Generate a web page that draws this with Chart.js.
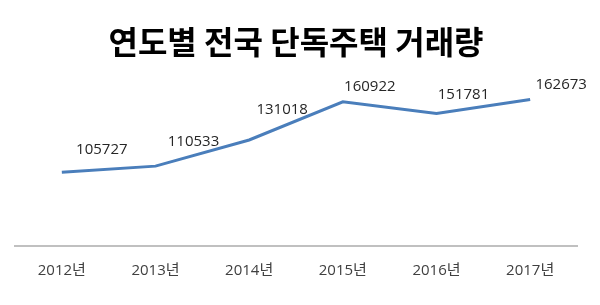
<!DOCTYPE html>
<html>
<head>
<meta charset="utf-8">
<script src="https://cdn.jsdelivr.net/npm/chart.js@4"></script>
<style>
  html, body { margin: 0; padding: 0; background: #fff; }
  #wrap { width: 600px; height: 305px; }
</style>
</head>
<body>
<div id="wrap"><canvas id="chart" width="600" height="305"></canvas></div>
<script>
// Data
const years = ['2012년', '2013년', '2014년', '2015년', '2016년', '2017년'];
const trades = [105727, 110533, 131018, 160922, 151781, 162673];

// label placement relative to each point (dx, dy)
const labelShift = [[40, -23], [38, -24], [33, -30], [27, -15], [27, -19], [31, -15]];

const fontKR = "'Noto Sans CJK KR', 'Noto Sans', sans-serif";
const fontNum = "'Open Sans', 'Noto Sans CJK KR', sans-serif";

// draw value labels next to the line
const valueLabels = {
  id: 'valueLabels',
  afterDatasetsDraw(chart) {
    const ctx = chart.ctx;
    const meta = chart.getDatasetMeta(0);
    ctx.save();
    ctx.font = '15px ' + fontNum;
    ctx.fillStyle = '#262626';
    ctx.textAlign = 'center';
    ctx.textBaseline = 'middle';
    meta.data.forEach((pt, i) => {
      ctx.fillText(String(trades[i]), pt.x + labelShift[i][0], pt.y + labelShift[i][1]);
    });
    ctx.restore();
  }
};

const ctx = document.getElementById('chart').getContext('2d');
const chart = new Chart(ctx, {
  type: 'line',
  data: {
    labels: years,
    datasets: [{
      data: trades,
      borderColor: '#4a7ebb',
      borderWidth: 3,
      pointRadius: 0,
      tension: 0,
      fill: false
    }]
  },
  options: {
    responsive: false,
    animation: false,
    layout: { padding: { left: 15, right: 23, top: 0, bottom: 9 } },
    plugins: {
      legend: { display: false },
      tooltip: { enabled: false },
      title: {
        display: true,
        text: '연도별 전국 단독주택 거래량',
        color: '#000',
        font: { family: fontKR, size: 32, weight: 'bold' },
        padding: { top: 23, bottom: 16 }
      }
    },
    scales: {
      x: {
        offset: true,
        grid: { display: false, drawTicks: false },
        border: { display: true, color: '#c0c0c0', width: 2 },
        ticks: {
          color: '#404040',
          font: { family: fontNum, size: 15 },
          padding: 16,
          maxRotation: 0
        }
      },
      y: {
        display: false,
        min: 48000,
        max: 180000
      }
    }
  },
  plugins: [valueLabels]
});
</script>
</body>
</html>
